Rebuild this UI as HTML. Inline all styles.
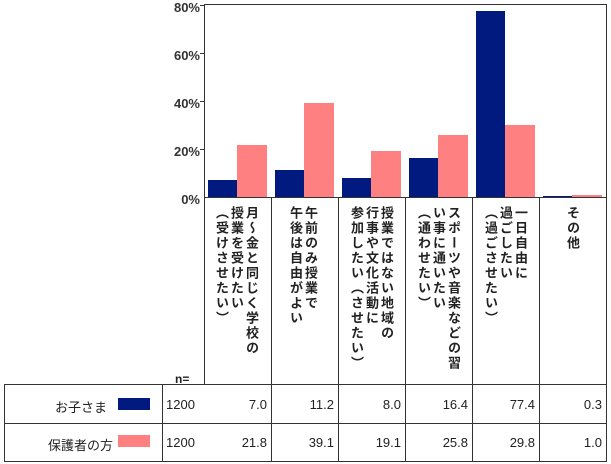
<!DOCTYPE html><html><head><meta charset="utf-8"><style>
body{margin:0;width:611px;height:464px;background:#fff;position:relative;overflow:hidden;font-family:"Liberation Sans","Noto Sans CJK JP",sans-serif;color:#222}
div{position:absolute;box-sizing:border-box}
.l{background:#333}
.yl{font-size:13px;font-weight:bold;color:#333;right:411px;text-align:right;line-height:14px}
.b{background:#001a80}.p{background:#ff8080}
.vt{writing-mode:vertical-rl;font-size:13px;line-height:15px;letter-spacing:2px;top:206px;font-weight:bold;color:#222;text-align:left}
.c{font-size:13px;text-align:right;line-height:14px}
</style></head><body>
<!-- plot box -->
<div class="l" style="left:204px;top:4px;width:1px;height:380px"></div>
<div class="l" style="left:204px;top:4px;width:403px;height:1px"></div>
<div class="l" style="left:606px;top:4px;width:1px;height:457px"></div>
<div class="l" style="left:204px;top:197px;width:403px;height:1px"></div>
<div class="yl" style="top:1px">80%</div><div class="yl" style="top:49px">60%</div><div class="yl" style="top:97px">40%</div><div class="yl" style="top:145px">20%</div><div class="yl" style="top:193px">0%</div>
<div class="l" style="left:200px;top:5px;width:4px;height:1px"></div><div class="l" style="left:200px;top:53px;width:4px;height:1px"></div><div class="l" style="left:200px;top:101px;width:4px;height:1px"></div><div class="l" style="left:200px;top:149px;width:4px;height:1px"></div>
<!-- bars -->
<div class="b" style="left:208px;top:180px;width:29px;height:17px"></div><div class="p" style="left:237px;top:145px;width:30px;height:52px"></div>
<div class="b" style="left:275px;top:170px;width:29px;height:27px"></div><div class="p" style="left:304px;top:103px;width:30px;height:94px"></div>
<div class="b" style="left:342px;top:178px;width:29px;height:19px"></div><div class="p" style="left:371px;top:151px;width:30px;height:46px"></div>
<div class="b" style="left:409px;top:158px;width:29px;height:39px"></div><div class="p" style="left:438px;top:135px;width:30px;height:62px"></div>
<div class="b" style="left:476px;top:11px;width:29px;height:186px"></div><div class="p" style="left:505px;top:125px;width:30px;height:72px"></div>
<div class="b" style="left:543px;top:196px;width:29px;height:1px"></div><div class="p" style="left:572px;top:195px;width:30px;height:2px"></div>
<!-- column dividers -->
<div class="l" style="left:271px;top:197px;width:1px;height:264px"></div>
<div class="l" style="left:338px;top:197px;width:1px;height:264px"></div>
<div class="l" style="left:405px;top:197px;width:1px;height:264px"></div>
<div class="l" style="left:472px;top:197px;width:1px;height:264px"></div>
<div class="l" style="left:539px;top:197px;width:1px;height:264px"></div>
<!-- labels -->
<div class="vt" style="left:214px">月～金と同じく学校の<br>授業を受けたい<br>（受けさせたい）</div>
<div class="vt" style="left:288px">午前のみ授業で<br>午後は自由がよい</div>
<div class="vt" style="left:349px">授業ではない地域の<br>行事や文化活動に<br>参加したい（させたい）</div>
<div class="vt" style="left:416px">スポーツや音楽などの習<br>い事に通いたい<br>（通わせたい）</div>
<div class="vt" style="left:483px">一日自由に<br>過ごしたい<br>（過ごさせたい）</div>
<div class="vt" style="left:565px">その他</div>
<div style="left:175px;top:372px;font-size:12px;font-weight:bold">n=</div>
<!-- table -->
<div class="l" style="left:4px;top:384px;width:603px;height:1px"></div>
<div class="l" style="left:4px;top:423px;width:603px;height:1px"></div>
<div class="l" style="left:4px;top:461px;width:603px;height:1px"></div>
<div class="l" style="left:4px;top:384px;width:1px;height:78px"></div>
<div class="l" style="left:162px;top:384px;width:1px;height:78px"></div>
<div style="left:55px;top:397px;font-size:13px">お子さま</div>
<div class="b" style="left:118px;top:398px;width:32px;height:12px"></div>
<div style="left:48px;top:435px;font-size:13px">保護者の方</div>
<div class="p" style="left:118px;top:435px;width:32px;height:12px"></div>
<div class="c" style="left:166px;top:398px">1200</div><div class="c" style="left:166px;top:436px">1200</div>
<div class="c" style="left:205px;width:62px;top:398px">7.0</div><div class="c" style="left:272px;width:62px;top:398px">11.2</div><div class="c" style="left:339px;width:62px;top:398px">8.0</div><div class="c" style="left:406px;width:62px;top:398px">16.4</div><div class="c" style="left:473px;width:62px;top:398px">77.4</div><div class="c" style="left:540px;width:62px;top:398px">0.3</div>
<div class="c" style="left:205px;width:62px;top:436px">21.8</div><div class="c" style="left:272px;width:62px;top:436px">39.1</div><div class="c" style="left:339px;width:62px;top:436px">19.1</div><div class="c" style="left:406px;width:62px;top:436px">25.8</div><div class="c" style="left:473px;width:62px;top:436px">29.8</div><div class="c" style="left:540px;width:62px;top:436px">1.0</div>
</body></html>
